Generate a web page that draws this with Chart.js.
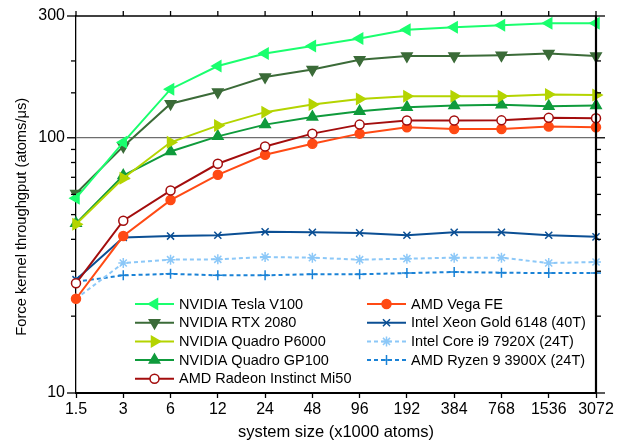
<!DOCTYPE html>
<html>
<head>
<meta charset="utf-8">
<script src="https://cdn.jsdelivr.net/npm/chart.js@4"></script>
<style>
  html, body { margin: 0; padding: 0; background: #fff; }
</style>
</head>
<body>
<canvas id="perfChart" width="623" height="443"></canvas>
<script>
// system size in thousands of atoms
const systemSizes = ['1.5', '3', '6', '12', '24', '48', '96', '192', '384', '768', '1536', '3072'];

// force kernel throughput (atoms/us)
const teslaV100   = [58, 96, 155, 191, 214, 229, 245, 265, 271, 276, 281, 281];
const rtx2080     = [60.5, 92.5, 136, 151, 173, 185, 202, 209, 209, 210.5, 214, 209];
const quadroP6000 = [45.8, 69.4, 96, 111.6, 126, 135, 142, 145.6, 145.6, 145.6, 147.8, 147];
const quadroGP100 = [46.2, 71.1, 88.4, 101.3, 112.6, 120.7, 127, 131.8, 133.8, 134.6, 133, 133.8];
const radeonMi50  = [26.9, 47.3, 62.1, 79.1, 92.5, 103.8, 112.6, 116.8, 116.8, 117, 119.7, 119.3];
const vegaFE      = [23.4, 41.2, 57, 71.6, 85.8, 94.8, 103.8, 109.9, 108.3, 108.3, 110.6, 110];
const xeonGold    = [27.8, 40.7, 41.2, 41.5, 42.8, 42.6, 42.4, 41.5, 42.6, 42.6, 41.5, 40.9];
const corei9      = [23.4, 32.3, 33.3, 33.4, 34.1, 33.9, 33.3, 33.6, 33.9, 33.9, 32.3, 32.6];
const ryzen9      = [27.3, 28.9, 29.3, 28.9, 28.9, 29.2, 29.2, 29.5, 29.8, 29.6, 29.5, 29.5];

const yLabelTicks = [10, 100, 300];

Chart.defaults.font.family = "'Liberation Sans', Arial, Helvetica, sans-serif";
Chart.defaults.color = '#000';

const mk = (label, data, color, style, opts = {}) => Object.assign({
  label: label,
  data: data,
  borderColor: color,
  backgroundColor: color,
  borderWidth: 2,
  pointStyle: style,
  pointRadius: 6,
  pointBorderWidth: 1.5,
  pointBackgroundColor: color,
  pointBorderColor: color,
  tension: 0,
  clip: false
}, opts);

const datasets = [
  mk('NVIDIA Tesla V100', teslaV100, '#1aff6e', 'triangle', { pointRotation: 270 }),
  mk('NVIDIA RTX 2080', rtx2080, '#3b6b38', 'triangle', { pointRotation: 180 }),
  mk('NVIDIA Quadro P6000', quadroP6000, '#b4d400', 'triangle', { pointRotation: 90 }),
  mk('NVIDIA Quadro GP100', quadroGP100, '#0f9b3c', 'triangle'),
  mk('AMD Radeon Instinct Mi50', radeonMi50, '#a30d0d', 'circle', { pointRadius: 4.5, pointBackgroundColor: '#fff', backgroundColor: '#fff' }),
  mk('AMD Vega FE', vegaFE, '#ff4a14', 'circle', { pointRadius: 4.5 }),
  mk('Intel Xeon Gold 6148 (40T)', xeonGold, '#0b4f94', 'crossRot', { pointRadius: 5 }),
  mk('Intel Core i9 7920X (24T)', corei9, '#8cc8f8', 'star', { pointRadius: 5, borderDash: [4, 3] }),
  mk('AMD Ryzen 9 3900X (24T)', ryzen9, '#1a82d6', 'cross', { pointRadius: 5, borderDash: [4, 3] })
];

// outer frame: top and right edges plus the y ticks on both sides
const frameTicks = {
  id: 'frameTicks',
  afterDraw(chart) {
    const { ctx, chartArea: a, scales: { x, y } } = chart;
    const seg = (x1, y1, x2, y2) => { ctx.beginPath(); ctx.moveTo(x1, y1); ctx.lineTo(x2, y2); ctx.stroke(); };
    ctx.save();
    ctx.strokeStyle = '#000';
    ctx.lineWidth = 1.3;
    seg(a.left, a.top, a.right, a.top);
    x.ticks.forEach((t, i) => {
      const px = x.getPixelForTick(i);
      seg(px, a.top, px, a.top - 5);
    });
    y.ticks.forEach(t => {
      const py = y.getPixelForValue(t.value);
      const len = yLabelTicks.includes(t.value) ? 9 : 5;
      seg(a.left - len, py, a.left, py);
      seg(a.right, py, a.right + len, py);
    });
    ctx.lineWidth = 2.2;
    seg(a.right, a.top - 0.5, a.right, a.bottom + 1);
    ctx.restore();
  }
};

// two column legend inside the plot
const twoColLegend = {
  id: 'twoColLegend',
  afterDatasetsDraw(chart) {
    const { ctx } = chart;
    const cols = [{ x: 135, first: 0, count: 5 }, { x: 367, first: 5, count: 4 }];
    ctx.save();
    ctx.font = "14.5px 'Liberation Sans', Arial, sans-serif";
    ctx.textBaseline = 'middle';
    ctx.fillStyle = '#000';
    cols.forEach(col => {
      for (let k = 0; k < col.count; k++) {
        const ds = chart.data.datasets[col.first + k];
        const yy = 304 + k * 18.7;
        ctx.strokeStyle = ds.borderColor;
        ctx.lineWidth = ds.borderWidth;
        ctx.setLineDash(ds.borderDash || []);
        ctx.beginPath(); ctx.moveTo(col.x, yy); ctx.lineTo(col.x + 39, yy); ctx.stroke();
        ctx.setLineDash([]);
        ctx.fillStyle = ds.pointBackgroundColor;
        ctx.lineWidth = ds.pointBorderWidth;
        Chart.helpers.drawPoint(ctx, {
          pointStyle: ds.pointStyle,
          rotation: ds.pointRotation || 0,
          radius: ds.pointRadius,
          borderWidth: ds.pointBorderWidth
        }, col.x + 19.5, yy);
        ctx.fillStyle = '#000';
        ctx.fillText(ds.label, col.x + 44, yy + 0.5);
      }
    });
    ctx.restore();
  }
};

new Chart(document.getElementById('perfChart'), {
  type: 'line',
  data: { labels: systemSizes, datasets: datasets },
  plugins: [frameTicks, twoColLegend],
  options: {
    responsive: false,
    animation: false,
    layout: { padding: { left: 0, right: 27, top: 16, bottom: 0 } },
    plugins: { legend: { display: false }, tooltip: { enabled: false } },
    scales: {
      x: {
        type: 'category',
        offset: false,
        grid: { drawOnChartArea: false, drawTicks: true, tickLength: 5, tickWidth: 1.3, tickColor: '#000' },
        border: { color: '#000', width: 2 },
        ticks: { font: { size: 16 }, padding: 2, maxRotation: 0, autoSkip: false },
        title: { display: true, text: 'system size (x1000 atoms)', font: { size: 16.5 }, padding: { top: 0, bottom: 1 } },
        afterFit: s => { s.height = 50; s.paddingLeft = 0; s.paddingRight = 0; }
      },
      y: {
        type: 'logarithmic',
        min: 10,
        max: 300,
        grid: {
          drawTicks: false,
          lineWidth: 1.2,
          color: c => (c.tick && c.tick.value === 100 ? '#6e6e6e' : 'rgba(0,0,0,0)')
        },
        border: { color: '#000', width: 1.3 },
        ticks: {
          font: { size: 16 },
          padding: 11,
          autoSkip: false,
          callback: v => (yLabelTicks.includes(v) ? String(v) : '')
        },
        // trailing spaces nudge the title a bit below the axis centre, as in the original
        title: { display: true, text: 'Force kernel throughgput (atoms/μs)      ', font: { size: 14.7 }, padding: { top: 13, bottom: 0 } },
        afterFit: s => { s.width = 76; s.paddingTop = 0; s.paddingBottom = 0; }
      }
    }
  }
});
</script>
</body>
</html>
